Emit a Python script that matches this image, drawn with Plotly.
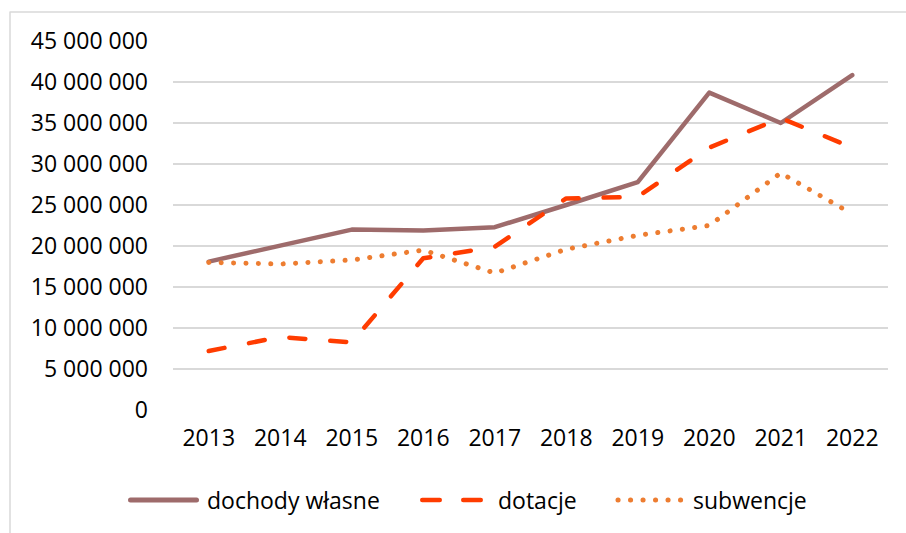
import plotly.graph_objects as go

# --- data -------------------------------------------------------------
years = ["2013", "2014", "2015", "2016", "2017", "2018", "2019", "2020", "2021", "2022"]
dochody_wlasne = [18.1e6, 20.0e6, 22.0e6, 21.9e6, 22.3e6, 25.0e6, 27.8e6, 38.7e6, 35.0e6, 40.85e6]
dotacje = [7.2e6, 8.9e6, 8.25e6, 18.5e6, 19.9e6, 25.8e6, 26.0e6, 32.0e6, 35.6e6, 32.0e6]
subwencje = [18.0e6, 17.8e6, 18.3e6, 19.5e6, 16.7e6, 19.6e6, 21.3e6, 22.5e6, 28.9e6, 23.9e6]

y_tick_values = [0, 5e6, 10e6, 15e6, 20e6, 25e6, 30e6, 35e6, 40e6, 45e6]
y_tick_labels = ["0", "5 000 000", "10 000 000", "15 000 000", "20 000 000",
                 "25 000 000", "30 000 000", "35 000 000", "40 000 000", "45 000 000"]

series_names = ["dochody własne", "dotacje", "subwencje"]

# --- styling ------------------------------------------------------------
W, H = 906, 533
PL, PR, PT, PB = 173, 888, 41, 410  # plot area edges in pixels
FONT = dict(family="Open Sans", size=23, color="#000000")
GRID = "#D9D9D9"

C_OWN = "#9E6B6B"
C_DOT = "#FF3C00"
C_SUB = "#ED7D31"


def px(x):
    return (x - PL) / (PR - PL)


def py(y):
    return (PB - y) / (PB - PT)


fig = go.Figure()
fig.add_trace(go.Scatter(x=years, y=dochody_wlasne, mode="lines", name=series_names[0],
                         line=dict(color=C_OWN, width=4.5)))
fig.add_trace(go.Scatter(x=years, y=dotacje, mode="lines", name=series_names[1],
                         line=dict(color=C_DOT, width=4.5, dash="16px,25px")))
fig.add_trace(go.Scatter(x=years, y=subwencje, mode="lines", name=series_names[2],
                         line=dict(color=C_SUB, width=5, dash="0.1px,12.3px")))

shapes = []
# outer chart frame (only top and left edges fall inside the canvas)
shapes.append(dict(type="rect", xref="paper", yref="paper",
                   x0=px(10), x1=px(W + 20), y0=py(H + 20), y1=py(12),
                   line=dict(color="#D9D9D9", width=1.5), layer="below"))

# custom legend with long samples
legend_y = py(500)
shapes.append(dict(type="line", xref="paper", yref="paper",
                   x0=px(130.5), x1=px(196.5), y0=legend_y, y1=legend_y,
                   line=dict(color=C_OWN, width=5)))
shapes.append(dict(type="line", xref="paper", yref="paper",
                   x0=px(422.25), x1=px(480.75), y0=legend_y, y1=legend_y,
                   line=dict(color=C_DOT, width=4.5, dash="17.5px,23.5px")))
shapes.append(dict(type="line", xref="paper", yref="paper",
                   x0=px(618), x1=px(681), y0=legend_y, y1=legend_y,
                   line=dict(color=C_SUB, width=5, dash="0.1px,12.4px")))

annotations = []
for name, xl in zip(series_names, [205, 496, 691]):
    annotations.append(dict(text=name, xref="paper", yref="paper",
                            x=px(xl), y=legend_y, xanchor="left", yanchor="middle",
                            showarrow=False, font=FONT))

fig.update_layout(
    width=W, height=H,
    margin=dict(l=PL, r=W - PR, t=PT, b=H - PB, pad=0),
    paper_bgcolor="white", plot_bgcolor="white",
    showlegend=False,
    font=FONT,
    shapes=shapes,
    annotations=annotations,
)
fig.update_xaxes(
    type="category", range=[-0.5, 9.5],
    showgrid=False, zeroline=False, showline=False, ticks="",
    tickfont=FONT, ticklabelstandoff=12,
)
fig.update_yaxes(
    range=[0, 45e6], tickvals=y_tick_values, ticktext=y_tick_labels,
    showgrid=True, gridcolor=GRID, gridwidth=1.5,
    zeroline=False, showline=False, ticks="",
    tickfont=FONT, ticklabelstandoff=24,
)

# round caps and joins for series lines and legend samples
post = """
var st = document.createElement('style');
st.textContent = '.scatterlayer path.js-line, .shapelayer path {' +
  'stroke-linecap: round !important; stroke-linejoin: round !important; }';
document.head.appendChild(st);
"""

fig.write_html("out.html", post_script=post)
